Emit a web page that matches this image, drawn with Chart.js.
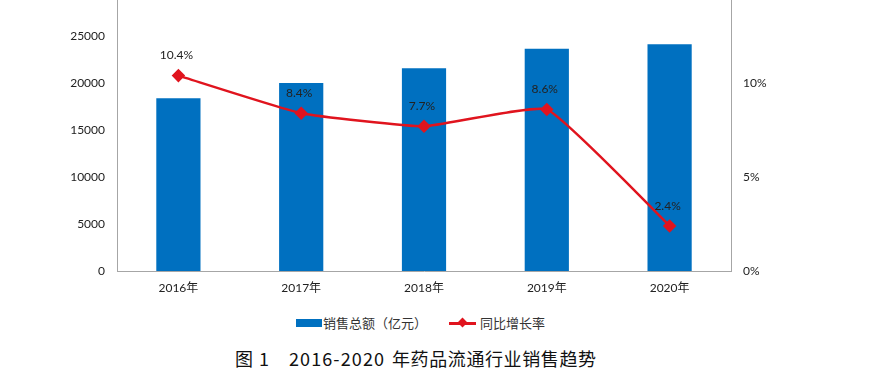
<!DOCTYPE html>
<html><head><meta charset="utf-8">
<script src="https://cdn.jsdelivr.net/npm/chart.js@4/dist/chart.umd.min.js"></script>
<style>
html,body{margin:0;padding:0;background:#fff;width:884px;height:377px;overflow:hidden;position:relative;}
#wrap{position:absolute;left:0;top:-30px;width:884px;height:330px;}
#legend{position:absolute;top:314px;left:0;width:884px;height:18px;font-family:"Noto Sans CJK SC",sans-serif;font-size:13px;color:#333;}
.lg{position:absolute;top:0;line-height:18px;white-space:nowrap;}
.cap{position:absolute;top:346px;font-family:"Noto Sans CJK SC",sans-serif;font-size:18px;color:#111;white-space:pre;line-height:24px;}
</style></head>
<body>
<div id="wrap"><canvas id="c" width="884" height="330"></canvas></div>
<div id="legend">
  <div class="lg" style="left:296px;top:5px;width:26px;height:8px;background:#0070C0;"></div>
  <div class="lg" style="left:323px;">销售总额（亿元）</div>
  <div class="lg" style="left:449px;top:8px;width:27px;height:2.5px;background:#E0141E;"></div>
  <div class="lg" style="left:459px;top:5px;width:7px;height:7px;background:#E0141E;transform:rotate(45deg);"></div>
  <div class="lg" style="left:480px;">同比增长率</div>
</div>
<div class="cap" style="left:235px;">图</div>
<div class="cap" style="left:259px;">1</div>
<div class="cap" style="left:289px;letter-spacing:1.1px;">2016-2020</div>
<div class="cap" style="left:392px;letter-spacing:0.6px;">年药品流通行业销售趋势</div>
<script>
const categories = ["2016年","2017年","2018年","2019年","2020年"];
const salesTotal = [18393, 20016, 21586, 23668, 24149];
const growthRate = [10.4, 8.4, 7.7, 8.6, 2.4];
const growthLabels = ["10.4%","8.4%","7.7%","8.6%","2.4%"];

const tickFont = {family:"Lato, 'Noto Sans CJK SC', sans-serif", size:12};

const labelPlugin = {
  id:'lineLabels',
  afterDatasetsDraw(chart){
    const meta = chart.getDatasetMeta(1);
    const ctx = chart.ctx;
    ctx.save();
    ctx.font = "12px Lato, 'Noto Sans CJK SC', sans-serif";
    ctx.fillStyle = '#222';
    ctx.textAlign = 'center';
    ctx.textBaseline = 'middle';
    meta.data.forEach((p,i)=>{
      ctx.fillText(growthLabels[i], p.x - 2, p.y - 20);
    });
    ctx.restore();
  }
};

new Chart(document.getElementById('c'), {
  data:{
    labels: categories,
    datasets:[
      {type:'bar', label:'销售总额（亿元）', data: salesTotal, backgroundColor:'#0070C0',
       yAxisID:'y', categoryPercentage:1, barPercentage:0.36, order:2},
      {type:'line', label:'同比增长率', data: growthRate, borderColor:'#E0141E', backgroundColor:'#E0141E',
       borderWidth:2.5, pointStyle:'rectRot', pointRadius:5, pointHoverRadius:5, tension:0.12,
       yAxisID:'y1', order:1}
    ]
  },
  options:{
    responsive:false, animation:false, devicePixelRatio:1,
    layout:{padding:{top:0,left:0,right:0,bottom:0}},
    plugins:{legend:{display:false}, tooltip:{enabled:false}, title:{display:false}},
    scales:{
      x:{
        grid:{display:false, drawTicks:false},
        border:{display:true, color:'#a6a6a6', width:1},
        ticks:{font:tickFont, color:'#222', padding:10, maxRotation:0},
        afterFit(s){ s.height = 29; }
      },
      y:{
        position:'left', min:0, max:30000,
        grid:{display:false, drawTicks:false},
        border:{display:true, color:'#a6a6a6', width:1},
        ticks:{stepSize:5000, font:tickFont, color:'#222', padding:12, callback:v=>String(v)},
        afterFit(s){ s.width = 117; }
      },
      y1:{
        position:'right', min:0, max:15,
        grid:{display:false, drawOnChartArea:false, drawTicks:true, tickLength:4, color:'#a6a6a6'},
        border:{display:true, color:'#a6a6a6', width:1},
        ticks:{stepSize:5, font:tickFont, color:'#222', padding:8, callback:v=>v+'%'},
        afterFit(s){ s.width = 153; }
      }
    }
  },
  plugins:[labelPlugin]
});
</script>
</body></html>
